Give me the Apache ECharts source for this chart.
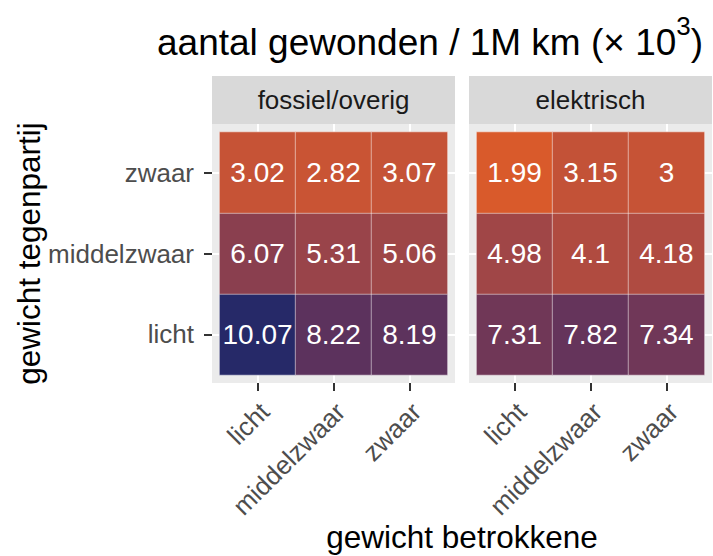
<!DOCTYPE html>
<html><head><meta charset="utf-8">
<script src="https://cdn.jsdelivr.net/npm/echarts@6/dist/echarts.min.js"></script>
<style>html,body{margin:0;padding:0;background:#fff}#c{width:713px;height:556px}</style>
</head><body><div id="c"></div>
<script>
// ---- data ----
const xCategories = ['licht', 'middelzwaar', 'zwaar'];   // gewicht betrokkene
const yCategories = ['licht', 'middelzwaar', 'zwaar'];   // gewicht tegenpartij (bottom -> top)
const facets = ['fossiel/overig', 'elektrisch'];
// rows follow yCategories, columns follow xCategories
const fossielValues = [
  [10.07, 8.22, 8.19],
  [6.07, 5.31, 5.06],
  [3.02, 2.82, 3.07]
];
const elektrischValues = [
  [7.31, 7.82, 7.34],
  [4.98, 4.1, 4.18],
  [1.99, 3.15, 3]
];
const facetValues = [fossielValues, elektrischValues];

// ---- colour scale (Lab interpolation like ggplot scale_fill_gradient) ----
const LOW = '#D95A2B', HIGH = '#262968';
function hex2rgb(h){h=h.replace('#','');return [0,2,4].map(i=>parseInt(h.substr(i,2),16));}
function s2l(c){c/=255;return c<=0.04045?c/12.92:Math.pow((c+0.055)/1.055,2.4);}
function l2s(c){const v=c<=0.0031308?12.92*c:1.055*Math.pow(c,1/2.4)-0.055;return Math.round(Math.max(0,Math.min(1,v))*255);}
const Xn=0.95047,Zn=1.08883;
function f(t){return t>0.008856?Math.cbrt(t):7.787*t+16/116;}
function fi(t){return t>0.206893?t*t*t:(t-16/116)/7.787;}
function rgb2lab(rgb){const [R,G,B]=rgb.map(s2l);
  const X=0.4124*R+0.3576*G+0.1805*B,Y=0.2126*R+0.7152*G+0.0722*B,Z=0.0193*R+0.1192*G+0.9505*B;
  const fx=f(X/Xn),fy=f(Y),fz=f(Z/Zn);return [116*fy-16,500*(fx-fy),200*(fy-fz)];}
function lab2hex([L,a,b]){const fy=(L+16)/116,fx=fy+a/500,fz=fy-b/200;
  const X=fi(fx)*Xn,Y=fi(fy),Z=fi(fz)*Zn;
  const R=3.2406*X-1.5372*Y-0.4986*Z,G=-0.9689*X+1.8758*Y+0.0415*Z,B=0.0557*X-0.2040*Y+1.0570*Z;
  return '#'+[R,G,B].map(v=>l2s(v).toString(16).padStart(2,'0')).join('');}
const labLo=rgb2lab(hex2rgb(LOW)), labHi=rgb2lab(hex2rgb(HIGH));
const stops=[];for(let i=0;i<=24;i++){const t=i/24;stops.push(lab2hex(labLo.map((v,k)=>v+(labHi[k]-v)*t)));}

const allVals=[].concat(...fossielValues.flat(),...elektrischValues.flat());
const vMin=Math.min(...allVals), vMax=Math.max(...allVals);

// ---- layout ----
const FONT='"Liberation Sans", Arial, Helvetica, sans-serif';
const panelLefts=[212,469], panelW=243, panelTop=124, panelH=259;
const padX=panelW*0.1/3.2, padY=panelH*0.1/3.2;
const stripTop=76, stripH=48;

const grids=[], xAxes=[], yAxes=[], series=[], graphics=[];
const whiteTick=(len)=>({show:true,alignWithLabel:true,interval:0,length:len,lineStyle:{color:'#FFFFFF',width:2}});
const darkTick={show:true,alignWithLabel:true,interval:0,length:8,lineStyle:{color:'#333333',width:2}};

facets.forEach((name,i)=>{
  const L=panelLefts[i];
  graphics.push({type:'rect',z:-10,shape:{x:L,y:panelTop,width:panelW,height:panelH},style:{fill:'#EBEBEB'}});
  graphics.push({type:'rect',z:-10,shape:{x:L,y:stripTop,width:panelW,height:stripH},style:{fill:'#D9D9D9'}});
  graphics.push({type:'text',z:5,x:L+panelW/2,y:stripTop+stripH/2,
    style:{text:name,fill:'#1A1A1A',fontSize:26,fontFamily:FONT,align:'center',verticalAlign:'middle',textAlign:'center',textVerticalAlign:'middle'}});
  grids.push({left:L+padX,top:panelTop+padY,width:panelW-2*padX,height:panelH-2*padY,containLabel:false});
  const xi=xAxes.length, yi=yAxes.length;
  const baseCat={gridIndex:i,type:'category',data:xCategories,axisLine:{show:false},splitLine:{show:false}};
  xAxes.push(Object.assign({},baseCat,{position:'bottom',axisTick:whiteTick(padY),axisLabel:{show:false}}));
  xAxes.push(Object.assign({},baseCat,{position:'top',axisTick:whiteTick(padY),axisLabel:{show:false}}));
  xAxes.push(Object.assign({},baseCat,{position:'bottom',offset:padY,axisTick:darkTick,
    axisLabel:{show:true,interval:0,rotate:45,align:'right',verticalAlign:'top',margin:13,padding:[0,3,0,0],color:'#4D4D4D',fontSize:26,fontFamily:FONT}}));
  const baseY={gridIndex:i,type:'category',data:yCategories,axisLine:{show:false},splitLine:{show:false}};
  yAxes.push(Object.assign({},baseY,{position:'left',axisTick:whiteTick(padX),axisLabel:{show:false}}));
  yAxes.push(Object.assign({},baseY,{position:'right',axisTick:whiteTick(padX),axisLabel:{show:false}}));
  if(i===0){
    yAxes.push(Object.assign({},baseY,{position:'left',offset:padX,axisTick:darkTick,
      axisLabel:{show:true,interval:0,margin:18,color:'#4D4D4D',fontSize:26,fontFamily:FONT}}));
  }
  const data=[];
  facetValues[i].forEach((row,yIdx)=>row.forEach((v,xIdx)=>data.push([xIdx,yIdx,v])));
  series.push({type:'heatmap',xAxisIndex:xi,yAxisIndex:yi,data:data,
    itemStyle:{borderColor:'rgba(255,255,255,0.45)',borderWidth:1},
    emphasis:{disabled:true},
    label:{show:true,color:'#FFFFFF',fontSize:28,fontFamily:FONT,formatter:p=>String(p.value[2])}});
});

// axis titles
graphics.push({type:'text',z:5,x:462,y:537,style:{text:'gewicht betrokkene',fill:'#000',fontSize:31.5,fontFamily:FONT,
  align:'center',verticalAlign:'middle',textAlign:'center',textVerticalAlign:'middle'}});
graphics.push({type:'text',z:5,x:29,y:253.5,rotation:Math.PI/2,style:{text:'gewicht tegenpartij',fill:'#000',fontSize:31.5,fontFamily:FONT,
  align:'center',verticalAlign:'middle',textAlign:'center',textVerticalAlign:'middle'}});

const chart=echarts.init(document.getElementById('c'),null,{renderer:'svg'});
chart.setOption({
  backgroundColor:'#FFFFFF',
  animation:false,
  title:{text:'{m|aantal gewonden / 1M km (× 10}{s|3}{m|)}',left:157,top:13,padding:0,
    textStyle:{fontWeight:'normal',rich:{m:{fontSize:37,lineHeight:48,verticalAlign:'bottom',color:'#000',fontWeight:'normal',fontFamily:FONT},
                     s:{fontSize:26,lineHeight:26,verticalAlign:'top',color:'#000',fontWeight:'normal',fontFamily:FONT}}}},
  grid:grids, xAxis:xAxes, yAxis:yAxes,
  visualMap:{type:'continuous',show:false,min:vMin,max:vMax,dimension:2,seriesIndex:[0,1],inRange:{color:stops}},
  series:series,
  graphic:{elements:graphics}
});
</script></body></html>
